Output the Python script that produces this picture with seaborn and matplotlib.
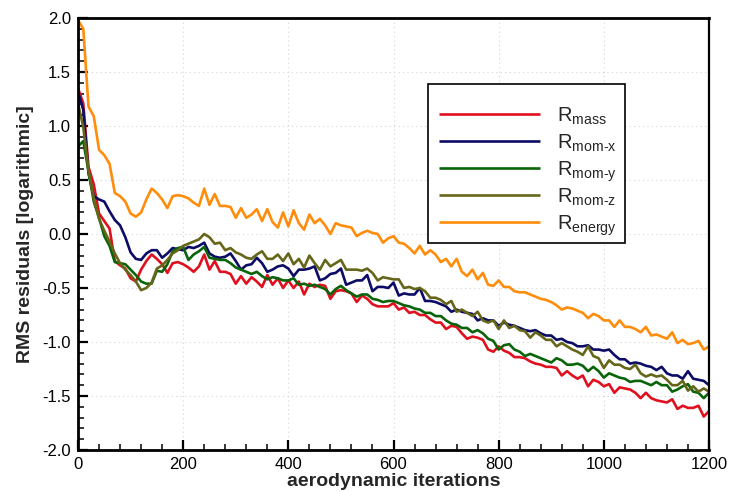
import numpy as np
import pandas as pd
import matplotlib
matplotlib.use("Agg")
import matplotlib.pyplot as plt
from matplotlib.patches import Rectangle
from matplotlib.ticker import MultipleLocator, FormatStrFormatter
import seaborn as sns

# Iteration counter, sampled every 10 aerodynamic iterations
iterations = list(range(0, 1201, 10))

r_mass = [
    1.35, 1.21, 0.62, 0.46, 0.19, 0.12, 0.05, -0.25, -0.29, -0.32,
    -0.41, -0.44, -0.33, -0.25, -0.19, -0.23, -0.28, -0.36, -0.27, -0.26,
    -0.28, -0.31, -0.35, -0.30, -0.19, -0.33, -0.25, -0.35, -0.35, -0.37,
    -0.46, -0.39, -0.46, -0.40, -0.44, -0.49, -0.38, -0.47, -0.41, -0.50,
    -0.43, -0.50, -0.44, -0.56, -0.46, -0.49, -0.47, -0.48, -0.60, -0.53,
    -0.52, -0.53, -0.55, -0.63, -0.57, -0.60, -0.65, -0.67, -0.67, -0.67,
    -0.64, -0.70, -0.68, -0.73, -0.72, -0.75, -0.75, -0.79, -0.82, -0.82,
    -0.88, -0.85, -0.86, -0.92, -0.97, -0.95, -0.96, -0.98, -1.07, -1.09,
    -1.04, -1.08, -1.10, -1.14, -1.14, -1.15, -1.18, -1.20, -1.21, -1.23,
    -1.23, -1.24, -1.31, -1.27, -1.31, -1.34, -1.31, -1.41, -1.35, -1.37,
    -1.41, -1.39, -1.47, -1.42, -1.43, -1.44, -1.47, -1.52, -1.47, -1.52,
    -1.54, -1.55, -1.56, -1.53, -1.62, -1.59, -1.61, -1.61, -1.59, -1.69,
    -1.64,
]

r_mom_x = [
    1.32, 1.15, 0.56, 0.35, 0.32, 0.30, 0.21, 0.13, 0.08, -0.03,
    -0.17, -0.23, -0.24, -0.18, -0.15, -0.15, -0.22, -0.18, -0.13, -0.14,
    -0.15, -0.12, -0.13, -0.11, -0.08, -0.18, -0.21, -0.22, -0.21, -0.18,
    -0.25, -0.33, -0.29, -0.28, -0.22, -0.27, -0.35, -0.33, -0.30, -0.29,
    -0.32, -0.39, -0.33, -0.33, -0.32, -0.30, -0.43, -0.41, -0.37, -0.36,
    -0.32, -0.47, -0.45, -0.43, -0.43, -0.38, -0.53, -0.49, -0.49, -0.50,
    -0.45, -0.57, -0.55, -0.56, -0.56, -0.50, -0.62, -0.62, -0.63, -0.65,
    -0.67, -0.72, -0.70, -0.72, -0.73, -0.74, -0.80, -0.78, -0.80, -0.80,
    -0.85, -0.82, -0.84, -0.85, -0.87, -0.89, -0.90, -0.89, -0.92, -0.94,
    -0.94, -0.98, -0.97, -1.00, -1.01, -1.04, -1.04, -1.03, -1.07, -1.07,
    -1.08, -1.07, -1.12, -1.16, -1.16, -1.20, -1.19, -1.20, -1.22, -1.23,
    -1.26, -1.23, -1.29, -1.31, -1.31, -1.34, -1.27, -1.34, -1.35, -1.36,
    -1.40,
]

r_mom_y = [
    0.81, 0.86, 0.58, 0.30, 0.15, -0.02, -0.11, -0.26, -0.27, -0.28,
    -0.33, -0.38, -0.44, -0.46, -0.46, -0.34, -0.35, -0.28, -0.16, -0.13,
    -0.12, -0.24, -0.19, -0.16, -0.12, -0.22, -0.23, -0.24, -0.24, -0.27,
    -0.31, -0.33, -0.35, -0.37, -0.35, -0.39, -0.42, -0.40, -0.41, -0.43,
    -0.43, -0.41, -0.47, -0.46, -0.48, -0.47, -0.49, -0.51, -0.56, -0.51,
    -0.48, -0.52, -0.55, -0.58, -0.56, -0.56, -0.60, -0.61, -0.63, -0.62,
    -0.62, -0.64, -0.66, -0.67, -0.69, -0.70, -0.73, -0.73, -0.76, -0.76,
    -0.80, -0.83, -0.84, -0.87, -0.87, -0.91, -0.89, -0.92, -0.97, -0.99,
    -1.07, -1.03, -1.02, -1.07, -1.09, -1.13, -1.11, -1.13, -1.15, -1.17,
    -1.19, -1.15, -1.17, -1.21, -1.21, -1.20, -1.22, -1.27, -1.23, -1.27,
    -1.33, -1.29, -1.31, -1.33, -1.34, -1.37, -1.36, -1.36, -1.38, -1.40,
    -1.37, -1.40, -1.40, -1.46, -1.44, -1.41, -1.39, -1.46, -1.47, -1.52,
    -1.47,
]

r_mom_z = [
    1.21, 0.99, 0.59, 0.33, 0.14, 0.03, -0.07, -0.18, -0.27, -0.33,
    -0.38, -0.44, -0.52, -0.50, -0.45, -0.32, -0.29, -0.24, -0.18, -0.15,
    -0.11, -0.09, -0.07, -0.05, 0.00, -0.03, -0.09, -0.08, -0.15, -0.13,
    -0.17, -0.19, -0.22, -0.23, -0.19, -0.16, -0.23, -0.23, -0.19, -0.25,
    -0.18, -0.28, -0.23, -0.31, -0.20, -0.27, -0.33, -0.24, -0.30, -0.27,
    -0.24, -0.33, -0.33, -0.33, -0.34, -0.32, -0.36, -0.43, -0.40, -0.41,
    -0.42, -0.42, -0.50, -0.49, -0.51, -0.50, -0.53, -0.59, -0.59, -0.61,
    -0.65, -0.62, -0.72, -0.70, -0.73, -0.76, -0.72, -0.80, -0.82, -0.80,
    -0.88, -0.80, -0.87, -0.85, -0.89, -0.90, -0.96, -0.91, -0.94, -0.98,
    -0.98, -1.04, -1.01, -1.04, -1.07, -1.09, -1.12, -1.04, -1.13, -1.15,
    -1.24, -1.17, -1.21, -1.21, -1.24, -1.25, -1.21, -1.29, -1.32, -1.30,
    -1.32, -1.31, -1.35, -1.40, -1.40, -1.36, -1.45, -1.41, -1.46, -1.43,
    -1.46,
]

r_energy = [
    1.98, 1.90, 1.18, 1.09, 0.78, 0.73, 0.65, 0.38, 0.35, 0.30,
    0.19, 0.16, 0.20, 0.32, 0.42, 0.38, 0.32, 0.24, 0.35, 0.36,
    0.35, 0.33, 0.29, 0.26, 0.42, 0.27, 0.37, 0.26, 0.26, 0.25,
    0.15, 0.24, 0.15, 0.18, 0.23, 0.12, 0.23, 0.11, 0.06, 0.20,
    0.07, 0.22, 0.10, 0.04, 0.18, 0.10, 0.14, 0.08, 0.00, 0.10,
    0.08, 0.07, 0.06, -0.02, 0.01, 0.03, 0.01, 0.00, -0.08, -0.04,
    -0.02, -0.08, -0.09, -0.13, -0.18, -0.11, -0.19, -0.15, -0.19, -0.26,
    -0.23, -0.30, -0.23, -0.35, -0.39, -0.33, -0.42, -0.36, -0.47, -0.48,
    -0.43, -0.49, -0.49, -0.53, -0.54, -0.54, -0.56, -0.58, -0.60, -0.61,
    -0.63, -0.66, -0.70, -0.68, -0.69, -0.71, -0.73, -0.78, -0.74, -0.76,
    -0.80, -0.80, -0.86, -0.80, -0.86, -0.86, -0.88, -0.91, -0.86, -0.94,
    -0.93, -0.95, -0.97, -0.91, -1.01, -0.98, -1.02, -1.01, -0.99, -1.07,
    -1.04,
]

series_labels = [
    r"R$_{\mathrm{mass}}$",
    r"R$_{\mathrm{mom\text{-}x}}$",
    r"R$_{\mathrm{mom\text{-}y}}$",
    r"R$_{\mathrm{mom\text{-}z}}$",
    r"R$_{\mathrm{energy}}$",
]
series_values = [r_mass, r_mom_x, r_mom_y, r_mom_z, r_energy]
series_colors = ["#e0101e", "#0c0c66", "#0a640a", "#66661a", "#ff8c0a"]

x_ticks = [0, 200, 400, 600, 800, 1000, 1200]
y_ticks = [-2.0, -1.5, -1.0, -0.5, 0.0, 0.5, 1.0, 1.5, 2.0]

# Long-form table for seaborn
frames = []
for label, vals in zip(series_labels, series_values):
    frames.append(pd.DataFrame({"iteration": iterations, "residual": vals, "series": label}))
df = pd.concat(frames, ignore_index=True)

sns.set_style("ticks")
plt.rcParams["font.family"] = ["Liberation Sans", "DejaVu Sans"]
plt.rcParams["mathtext.fontset"] = "custom"
plt.rcParams["mathtext.rm"] = "Liberation Sans"
plt.rcParams["mathtext.it"] = "Liberation Sans:italic"
plt.rcParams["mathtext.bf"] = "Liberation Sans:bold"
plt.rcParams["axes.unicode_minus"] = False

W, H = 730, 492
fig = plt.figure(figsize=(W / 100, H / 100), dpi=100)
ax = fig.add_axes([78 / W, 1 - 450 / H, 631 / W, 432 / H])

palette = dict(zip(series_labels, series_colors))
sns.lineplot(
    data=df, x="iteration", y="residual", hue="series",
    palette=palette, hue_order=series_labels, linewidth=1.9,
    ax=ax, legend=False,
)

ax.set_xlim(0, 1200)
ax.set_ylim(-2.0, 2.0)
ax.set_xticks(x_ticks)
ax.set_yticks(y_ticks)
ax.xaxis.set_minor_locator(MultipleLocator(40))
ax.yaxis.set_minor_locator(MultipleLocator(0.1))
ax.yaxis.set_major_formatter(FormatStrFormatter("%.1f"))

ax.grid(True, which="major", linestyle=(0, (1, 3)), color="#d4d4d4", linewidth=0.8)
ax.set_axisbelow(True)

for side in ["left", "bottom", "top", "right"]:
    ax.spines[side].set_visible(True)
    ax.spines[side].set_color("black")
    ax.spines[side].set_linewidth(2.0)
ax.spines["right"].set_linewidth(1.6)

ax.tick_params(axis="both", which="major", direction="in", length=7.5, width=1.6,
               labelsize=12, pad=5, colors="black", top=False, right=False)
ax.tick_params(axis="both", which="minor", direction="in", length=4, width=1.3,
               top=False, right=False)

ax.set_xlabel("aerodynamic iterations", fontsize=14, fontweight="bold", labelpad=1)
ax.set_ylabel("RMS residuals [logarithmic]", fontsize=14, fontweight="bold", labelpad=6)


def ax_frac(px, py):
    """Pixel position inside the figure -> axes fraction."""
    return (px - 78) / 631, (450 - py) / 432


# Legend: framed box with evenly spaced sample lines and labels
box_x0, box_y0 = ax_frac(428, 243)
box_x1, box_y1 = ax_frac(625, 84)
ax.add_patch(Rectangle((box_x0, box_y0), box_x1 - box_x0, box_y1 - box_y0,
                       transform=ax.transAxes, facecolor="white",
                       edgecolor="black", linewidth=1.2, zorder=4.5))

for i, (label, color) in enumerate(zip(series_labels, series_colors)):
    row_y = 114 + 27 * i
    (lx0, ly), (lx1, _) = ax_frac(439, row_y), ax_frac(540, row_y)
    ax.plot([lx0, lx1], [ly, ly], transform=ax.transAxes, color=color,
            linewidth=1.9, solid_capstyle="butt", zorder=6, clip_on=False)
    tx, ty = ax_frac(557, row_y + 8)
    ax.text(tx, ty, label, transform=ax.transAxes, fontsize=14.5,
            ha="left", va="baseline", zorder=6)

fig.savefig("out.png", dpi=100)
